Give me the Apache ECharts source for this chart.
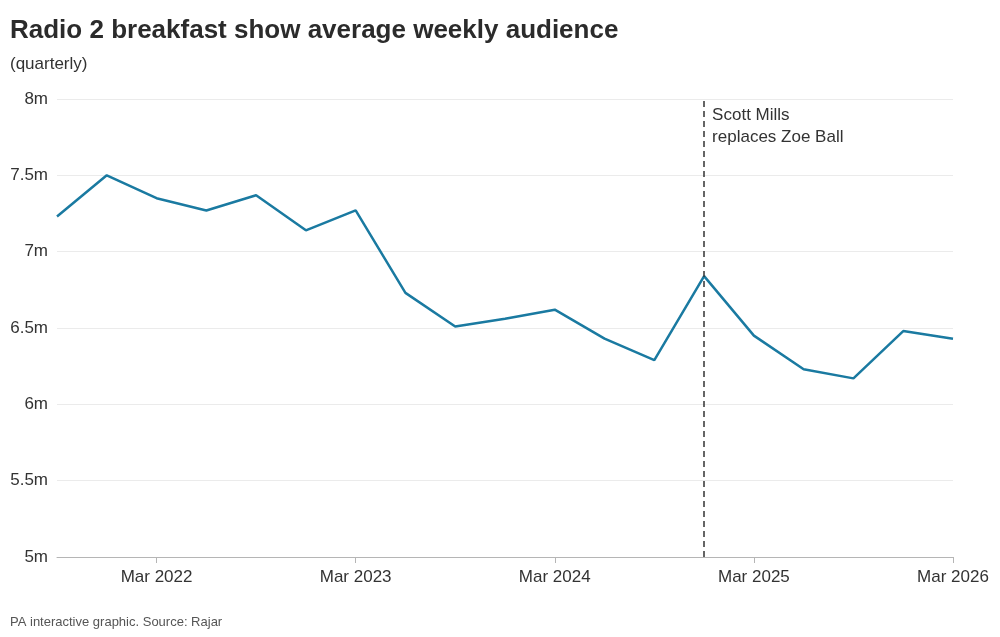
<!DOCTYPE html>
<html>
<head>
<meta charset="utf-8">
<script src="https://cdn.jsdelivr.net/npm/echarts@6/dist/echarts.min.js"></script>
<style>
  html, body { margin: 0; padding: 0; background: #fff; }
  #main { width: 1000px; height: 637px; }
</style>
</head>
<body>
<div id="main"></div>
<script>
// quarterly periods
var quarters = ['Sep 2021', 'Dec 2021', 'Mar 2022', 'Jun 2022', 'Sep 2022', 'Dec 2022',
  'Mar 2023', 'Jun 2023', 'Sep 2023', 'Dec 2023', 'Mar 2024', 'Jun 2024', 'Sep 2024',
  'Dec 2024', 'Mar 2025', 'Jun 2025', 'Sep 2025', 'Dec 2025', 'Mar 2026'];
// average weekly audience, millions
var audience = [7.23, 7.50, 7.35, 7.27, 7.37, 7.14, 7.27, 6.73, 6.51, 6.56, 6.62, 6.43,
  6.29, 6.84, 6.45, 6.23, 6.17, 6.48, 6.43];
var yTicks = [5, 5.5, 6, 6.5, 7, 7.5, 8];
var eventQuarter = 'Dec 2024';
var eventText = 'Scott Mills\nreplaces Zoe Ball';

var font = 'Liberation Sans';
var dom = document.getElementById('main');
var myChart = echarts.init(dom, null, { renderer: 'canvas' });

function isMarch(i) { return (i - 2) % 4 === 0; }

var option = {
  backgroundColor: '#fff',
  animation: false,
  textStyle: { fontFamily: font },
  title: [{
    text: 'Radio 2 breakfast show average weekly audience',
    left: 5, top: 13,
    textStyle: { fontSize: 26, fontWeight: 'bold', color: '#2b2b2b', fontFamily: font }
  }, {
    text: '(quarterly)',
    left: 5, top: 51,
    textStyle: { fontSize: 17, fontWeight: 'normal', color: '#333', fontFamily: font }
  }, {
    text: 'PA interactive graphic. Source: Rajar',
    left: 5, top: 611,
    textStyle: { fontSize: 13, fontWeight: 'normal', color: '#555', fontFamily: font }
  }],
  grid: { left: 57, right: 47, top: 99, bottom: 80, containLabel: false },
  xAxis: {
    type: 'category',
    data: quarters,
    boundaryGap: false,
    axisLine: { lineStyle: { color: '#b5b5b5', width: 1 } },
    axisTick: { show: true, interval: function (i) { return isMarch(i); }, length: 6, lineStyle: { color: '#b5b5b5' } },
    axisLabel: {
      interval: function (i) { return isMarch(i); },
      fontSize: 17, color: '#333', margin: 12, fontFamily: font
    },
    splitLine: { show: false }
  },
  yAxis: {
    type: 'value',
    min: yTicks[0], max: yTicks[yTicks.length - 1], interval: 0.5,
    axisLine: { show: false },
    axisTick: { show: false },
    axisLabel: {
      fontSize: 17, color: '#333', margin: 9, fontFamily: font,
      formatter: function (v) { return v + 'm'; }
    },
    splitLine: { lineStyle: { color: '#ebebeb', width: 1 } }
  },
  series: [{
    name: 'Audience',
    type: 'line',
    data: audience,
    symbol: 'none',
    lineStyle: { color: '#1a7aa1', width: 2.5 },
    markLine: {
      silent: true,
      symbol: 'none',
      label: { show: false },
      lineStyle: { color: '#333', type: [6, 4], width: 1.5 },
      data: [{ xAxis: eventQuarter }]
    }
  }]
};

myChart.setOption(option, true);

var px = myChart.convertToPixel({ xAxisIndex: 0 }, eventQuarter);
var py = myChart.convertToPixel({ yAxisIndex: 0 }, yTicks[yTicks.length - 1]);
myChart.setOption({
  graphic: [{
    type: 'text',
    left: px + 8, top: py + 5,
    style: { text: eventText, fontSize: 17, lineHeight: 22, fill: '#333', fontFamily: font }
  }]
});
</script>
</body>
</html>
